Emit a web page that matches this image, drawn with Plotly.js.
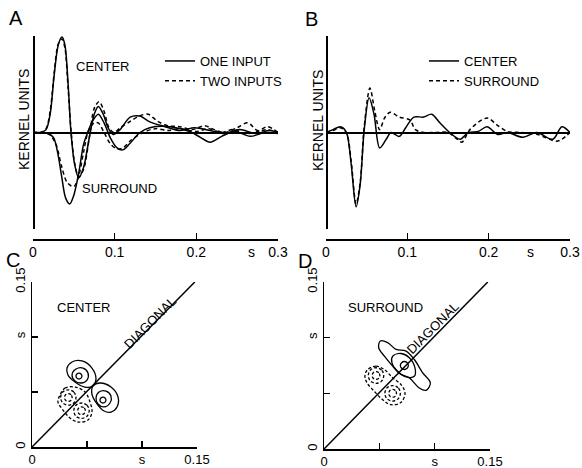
<!DOCTYPE html>
<html><head><meta charset="utf-8">
<script src="https://cdn.plot.ly/plotly-3.0.1.min.js"></script>
<style>html,body{margin:0;padding:0;background:#fff}</style>
</head><body><div id="chart" style="width:582px;height:468px"></div>
<script>
// ---------- Panel A : kernels (time in s, kernel units normalised) ----------
const tCenterOne = [0,0.010,0.016,0.021,0.026,0.031,0.0355,0.039,0.043,0.0465,0.051,0.056,0.062,0.0686,0.075,0.080,0.086,0.092,0.098,0.1065,0.119,0.131,0.143,0.162,0.18,0.198,0.217,0.235,0.253,0.272,0.29,0.3];
const vCenterOne = [0,0,0.03,0.19,0.60,0.91,0.99,0.91,0.50,0,-0.33,-0.47,-0.36,-0.07,0.19,0.27,0.19,0.05,-0.02,0.03,0.16,0.17,0.11,0.06,0.02,0.05,0.02,-0.01,0.03,-0.01,0.02,0];
const tCenterTwo = [0,0.010,0.016,0.021,0.026,0.031,0.0355,0.039,0.043,0.047,0.051,0.056,0.062,0.069,0.075,0.081,0.087,0.093,0.099,0.107,0.12,0.13,0.141,0.152,0.165,0.18,0.195,0.21,0.222,0.235,0.25,0.263,0.275,0.287,0.3];
const vCenterTwo = [0,0,0.04,0.22,0.62,0.92,0.97,0.88,0.46,-0.02,-0.32,-0.46,-0.38,-0.05,0.25,0.32,0.22,0.05,0.0,0.05,0.12,0.17,0.19,0.12,0.07,0.06,0.03,0.07,0.03,0.0,0.05,0.10,0.02,0.03,0];
const tSurrOne = [0,0.010,0.018,0.025,0.030,0.035,0.040,0.045,0.050,0.056,0.062,0.067,0.073,0.080,0.087,0.095,0.103,0.110,0.118,0.131,0.143,0.168,0.192,0.205,0.217,0.231,0.247,0.266,0.284,0.3];
const vSurrOne = [0,0,-0.01,-0.05,-0.2,-0.45,-0.68,-0.74,-0.65,-0.42,-0.12,0.0,0.12,0.19,0.10,-0.06,-0.16,-0.18,-0.12,0.0,0.05,0.06,0.01,-0.05,-0.10,-0.04,0.01,-0.04,0,-0.01];
const tSurrTwo = [0,0.010,0.020,0.028,0.035,0.042,0.050,0.056,0.062,0.068,0.075,0.080,0.087,0.095,0.103,0.110,0.120,0.135,0.15,0.165,0.18,0.2,0.215,0.23,0.245,0.26,0.275,0.287,0.3];
const vSurrTwo = [0,0,-0.02,-0.12,-0.35,-0.52,-0.56,-0.45,-0.2,0.02,0.10,0.10,0.0,-0.12,-0.17,-0.16,-0.08,0.0,0.04,0.02,0.04,0.01,0.04,0.0,0.03,-0.01,0.01,0.06,0];

// ---------- Panel B ----------
const tBCenter = [0,0.0086,0.0172,0.022,0.026,0.031,0.037,0.042,0.047,0.053,0.059,0.066,0.074,0.080,0.090,0.098,0.108,0.120,0.130,0.140,0.152,0.165,0.175,0.187,0.198,0.211,0.223,0.242,0.259,0.279,0.29,0.3];
const vBCenter = [0,0.03,0.06,0.04,-0.02,-0.33,-0.77,-0.54,0.03,0.36,0.19,-0.16,-0.07,0,-0.04,0.05,0.16,0.16,0.19,0.10,0,-0.07,0,0.01,0.06,-0.02,0,-0.05,0,-0.07,0.06,0];
const tBSurr = [0,0.0086,0.0172,0.022,0.026,0.031,0.037,0.042,0.047,0.054,0.060,0.066,0.072,0.079,0.090,0.103,0.110,0.120,0.135,0.150,0.160,0.167,0.177,0.198,0.210,0.223,0.240,0.260,0.283,0.290,0.3];
const vBSurr = [0,0.02,0.05,0.03,-0.02,-0.30,-0.74,-0.52,0.06,0.46,0.22,0.03,0.15,0.21,0.16,0.13,0.03,0.0,0.0,0.0,-0.06,-0.10,0.03,0.15,0.08,0.01,0.0,-0.02,-0.09,-0.07,0];

const timeTicks = [0,0.1,0.2,0.3];
const timeTickText = ["0","0.1","0.2","0.3"];
const lagTicks = [0,0.05,0.1,0.15];
const lagTickText = ["0","","s","0.15"];

// ---------- Panel C : second-order center kernel contours (s, s) ----------
const cSolidX = [0.0318,0.0364,0.0455,0.0545,0.0582,0.0555,0.048,0.0391,0.0327,0.0318,null,
  0.0364,0.040,0.0464,0.0509,0.050,0.0445,0.0391,0.0364,null,
  0.0454,0.0446,0.0427,0.0408,0.0400,0.0408,0.0427,0.0446,0.0454,null,
  0.0718,0.0773,0.0782,0.0718,0.0618,0.0555,0.0545,0.0591,0.0655,0.0718,null,
  0.0655,0.0709,0.0718,0.0673,0.0609,0.0582,0.060,0.0655,null,
  0.0645,0.0664,0.0672,0.0664,0.0645,0.0626,0.0618,0.0626,0.0645];
const cSolidY = [0.0718,0.0773,0.0782,0.0718,0.0618,0.0555,0.0545,0.0591,0.0655,0.0718,null,
  0.0655,0.0709,0.0718,0.0673,0.0609,0.0582,0.060,0.0655,null,
  0.0645,0.0664,0.0672,0.0664,0.0645,0.0626,0.0618,0.0626,0.0645,null,
  0.0318,0.0364,0.0455,0.0545,0.0582,0.0555,0.048,0.0391,0.0327,0.0318,null,
  0.0364,0.040,0.0464,0.0509,0.050,0.0445,0.0391,0.0364,null,
  0.0454,0.0446,0.0427,0.0408,0.0400,0.0408,0.0427,0.0446,0.0454];
const cDashX = [0.0255,0.030,0.0391,0.0482,0.0527,0.0545,0.0509,0.0418,0.0345,0.0282,0.0236,0.0255,null,
  0.040,0.038,0.033,0.028,0.026,0.028,0.033,0.038,0.040,null,
  0.0365,0.0355,0.033,0.0305,0.0295,0.0305,0.033,0.0355,0.0365,null,
  0.045,0.050,0.052,0.050,0.045,0.040,0.038,0.040,0.045,null,
  0.045,0.0475,0.0485,0.0475,0.045,0.0425,0.0415,0.0425,0.045];
const cDashY = [0.0473,0.0536,0.0545,0.050,0.0409,0.0318,0.0245,0.0227,0.0264,0.0336,0.0409,0.0473,null,
  0.045,0.050,0.052,0.050,0.045,0.040,0.038,0.040,0.045,null,
  0.045,0.0475,0.0485,0.0475,0.045,0.0425,0.0415,0.0425,0.045,null,
  0.040,0.038,0.033,0.028,0.026,0.028,0.033,0.038,0.040,null,
  0.0365,0.0355,0.033,0.0305,0.0295,0.0305,0.033,0.0355,0.0365];

// ---------- Panel D : second-order surround kernel contours ----------
const dSolidX = [0.0509,0.0575,0.0651,0.0741,0.0816,0.0892,0.0961,0.0922,0.0861,0.0771,0.0681,0.0620,0.0546,0.0494,0.0509,null,
  0.0621,0.0696,0.0771,0.0822,0.0816,0.0741,0.0666,0.0614,0.0621,null,
  0.0762,0.0751,0.0726,0.0701,0.069,0.0701,0.0726,0.0751,0.0762];
const dSolidY = [0.0970,0.0955,0.0895,0.0879,0.0804,0.0684,0.0594,0.0527,0.0548,0.0639,0.0678,0.0744,0.0834,0.0910,0.0970,null,
  0.0834,0.0858,0.0820,0.0729,0.0653,0.0648,0.0699,0.0774,0.0834,null,
  0.075,0.0775,0.0786,0.0775,0.075,0.0725,0.0714,0.0725,0.075];
const dDashX = [0.0395,0.0470,0.0545,0.0621,0.0696,0.0732,0.0696,0.0605,0.0530,0.0455,0.0389,0.0370,0.0395,null,
  0.054,0.052,0.047,0.042,0.040,0.042,0.047,0.052,0.054,null,
  0.0505,0.0495,0.047,0.0445,0.0435,0.0445,0.047,0.0495,0.0505,null,
  0.069,0.067,0.062,0.057,0.055,0.057,0.062,0.067,0.069,null,
  0.0655,0.0645,0.062,0.0595,0.0585,0.0595,0.062,0.0645,0.0655];
const dDashY = [0.0714,0.0744,0.0714,0.0639,0.0578,0.0503,0.0419,0.0398,0.0443,0.0518,0.0594,0.0660,0.0714,null,
  0.066,0.071,0.073,0.071,0.066,0.061,0.059,0.061,0.066,null,
  0.066,0.0685,0.0695,0.0685,0.066,0.0635,0.0625,0.0635,0.066,null,
  0.050,0.055,0.057,0.055,0.050,0.045,0.043,0.045,0.050,null,
  0.050,0.0525,0.0535,0.0525,0.050,0.0475,0.0465,0.0475,0.050];
const diagX = [0,0.148];
const diagY = [0,0.15];

// ---------- figure ----------
const W = 582, H = 468;
const px = v => v / W, py = v => 1 - v / H;
const FONT = "Liberation Sans, Arial, sans-serif";
const solid = {color:'#000', width:1.5, shape:'spline', smoothing:0.9};
const dashed = {color:'#000', width:1.5, shape:'spline', smoothing:0.9, dash:'4px,3px'};

const traces = [
  {x:tCenterOne, y:vCenterOne, xaxis:'x', yaxis:'y', mode:'lines', line:solid, name:'ONE INPUT', legend:'legend'},
  {x:tCenterTwo, y:vCenterTwo, xaxis:'x', yaxis:'y', mode:'lines', line:dashed, name:'TWO INPUTS', legend:'legend'},
  {x:tSurrOne, y:vSurrOne, xaxis:'x', yaxis:'y', mode:'lines', line:solid, showlegend:false},
  {x:tSurrTwo, y:vSurrTwo, xaxis:'x', yaxis:'y', mode:'lines', line:dashed, showlegend:false},
  {x:tBCenter, y:vBCenter, xaxis:'x2', yaxis:'y2', mode:'lines', line:solid, name:'CENTER', legend:'legend2'},
  {x:tBSurr, y:vBSurr, xaxis:'x2', yaxis:'y2', mode:'lines', line:dashed, name:'SURROUND', legend:'legend2'},
  {x:diagX, y:diagY, xaxis:'x3', yaxis:'y3', mode:'lines', line:{color:'#000', width:1.5}, showlegend:false},
  {x:cSolidX, y:cSolidY, xaxis:'x3', yaxis:'y3', mode:'lines', line:{color:'#000', width:1.3, shape:'spline'}, showlegend:false},
  {x:cDashX, y:cDashY, xaxis:'x3', yaxis:'y3', mode:'lines', line:{color:'#000', width:1.3, shape:'spline', dash:'3px,2px'}, showlegend:false},
  {x:diagX, y:diagY, xaxis:'x4', yaxis:'y4', mode:'lines', line:{color:'#000', width:1.5}, showlegend:false},
  {x:dSolidX, y:dSolidY, xaxis:'x4', yaxis:'y4', mode:'lines', line:{color:'#000', width:1.3, shape:'spline'}, showlegend:false},
  {x:dDashX, y:dDashY, xaxis:'x4', yaxis:'y4', mode:'lines', line:{color:'#000', width:1.3, shape:'spline', dash:'3px,2px'}, showlegend:false}
];

const tf = {family:FONT, size:14, color:'#000'};
const tfs = {family:FONT, size:13, color:'#000'};
function timeX(d0, d1) {
  return {domain:[px(d0), px(d1)], range:[0,0.3], anchor:'free', position:py(239),
    showline:true, linecolor:'#000', linewidth:1.5, ticks:'inside', ticklen:6, tickwidth:1.5, tickcolor:'#000',
    tickvals:timeTicks, ticktext:timeTickText, tickfont:tf, showgrid:false, zeroline:false, ticklabelstandoff:0, fixedrange:true};
}
function kernY(pos) {
  return {domain:[py(229), py(36)], range:[-1,1], anchor:'free', position:pos,
    showline:true, linecolor:'#000', linewidth:1.5, ticks:'inside', ticklen:5, tickwidth:1.5, tickcolor:'#000',
    tickvals:[-1,1], showticklabels:false, showgrid:false, zeroline:true, zerolinecolor:'#000', zerolinewidth:2, fixedrange:true};
}
function lagX(d0, d1, anchor) {
  return {domain:[px(d0), px(d1)], range:[0,0.15], anchor:anchor,
    showline:true, linecolor:'#000', linewidth:1.5, ticks:'inside', ticklen:6, tickwidth:1.5, tickcolor:'#000',
    tickvals:lagTicks, ticktext:lagTickText, tickfont:tfs, showgrid:false, zeroline:false, ticklabelstandoff:0, fixedrange:true};
}
function lagY(b, t, anchor) {
  return {domain:[py(b), py(t)], range:[0,0.15], anchor:anchor,
    showline:true, linecolor:'#000', linewidth:1.5, ticks:'inside', ticklen:6, tickwidth:1.5, tickcolor:'#000',
    tickvals:lagTicks, ticktext:lagTickText, tickfont:tfs, tickangle:-90, showgrid:false, zeroline:false, fixedrange:true};
}

function lab(text, x, y, size, angle) {
  return {text:text, xref:'paper', yref:'paper', x:px(x), y:py(y), xanchor:'center', yanchor:'middle',
    showarrow:false, font:{family:FONT, size:size || 13, color:'#000'}, textangle:angle || 0};
}

const layout = {
  width:W, height:H, margin:{l:0, r:0, t:0, b:0},
  paper_bgcolor:'#fff', plot_bgcolor:'rgba(0,0,0,0)',
  font:{family:FONT, color:'#000'},
  xaxis: timeX(33, 278),
  yaxis: kernY(px(33)),
  xaxis2: timeX(326, 570),
  yaxis2: kernY(px(326)),
  xaxis3: lagX(32, 197, 'y3'),
  yaxis3: lagY(447, 282, 'x3'),
  xaxis4: lagX(324, 490, 'y4'),
  yaxis4: lagY(449, 282, 'x4'),
  legend: {x:px(160), y:py(46), xanchor:'left', yanchor:'top', bgcolor:'rgba(0,0,0,0)',
    font:{family:FONT, size:13, color:'#000'}, itemwidth:30, tracegroupgap:0},
  legend2: {x:px(424), y:py(46), xanchor:'left', yanchor:'top', bgcolor:'rgba(0,0,0,0)',
    font:{family:FONT, size:13, color:'#000'}, itemwidth:30, tracegroupgap:0},
  annotations: [
    lab('A', 16, 18, 20), lab('B', 311, 19, 20), lab('C', 13, 260, 20), lab('D', 305, 261, 20),
    lab('KERNEL UNITS', 24, 120, 14, -90), lab('KERNEL UNITS', 318, 120, 14, -90),
    lab('CENTER', 102, 67), lab('SURROUND', 119, 188),
    lab('s', 251, 252, 14), lab('s', 530, 252, 14),
    lab('CENTER', 83, 307), lab('SURROUND', 385, 307),
    lab('DIAGONAL', 150, 322, 13, -45), lab('DIAGONAL', 432, 328, 13, -45)
  ]
};

Plotly.newPlot('chart', traces, layout, {staticPlot:true, displayModeBar:false});
</script></body></html>
